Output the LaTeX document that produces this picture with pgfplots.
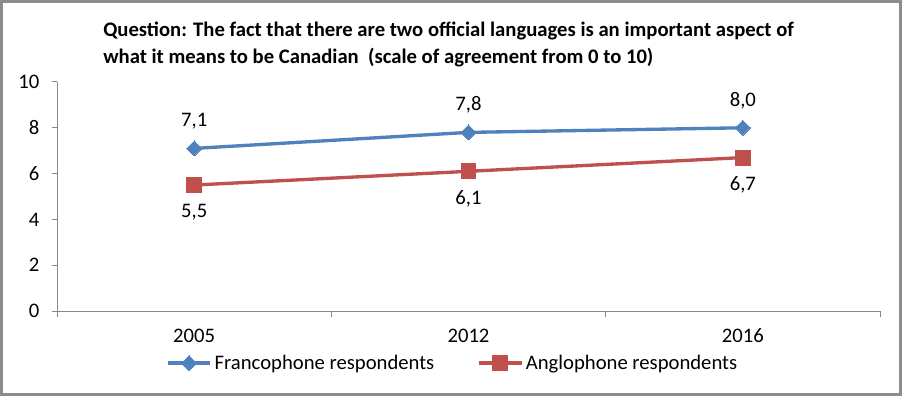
\documentclass[border=0pt]{standalone}
\usepackage{pgfplots}
\pgfplotsset{compat=1.18}
\usepackage{fontspec}
\setmainfont{Carlito}
\definecolor{fblue}{HTML}{4F81BD}
\definecolor{ared}{HTML}{C0504D}
\definecolor{axgray}{HTML}{868686}
\definecolor{framegray}{HTML}{8C8C8C}
\newcommand{\fs}{\fontsize{15.5pt}{18pt}\selectfont}
\begin{document}
\begin{tikzpicture}
\fill[white] (0pt,0pt) rectangle (676.5pt,297pt);
\draw[framegray, line width=2.25pt] (1.125pt,1.125pt) rectangle (675.375pt,295.875pt);
\node[anchor=north west, align=left, font=\bfseries\fontsize{15.5pt}{20.25pt}\selectfont, inner sep=0pt] at (77.25pt,281pt) {Question: The fact that there are two official languages is an important aspect of\\what it means to be Canadian\ \ (scale of agreement from 0 to 10)};
\begin{axis}[
  at={(42.75pt,63.75pt)}, anchor=south west,
  scale only axis, width=617.25pt, height=171.75pt,
  xmin=0, xmax=3, ymin=0, ymax=10,
  axis x line*=bottom, axis y line*=left,
  axis line style={axgray, line width=0.75pt, -},
  xtick={0.5,1.5,2.5}, xticklabels={2005,2012,2016},
  major x tick style={draw=none},
  minor xtick={0,1,2,3},
  minor tick length=4.5pt,
  minor tick style={axgray, line width=0.75pt},
  ytick={0,2,4,6,8,10},
  major tick length=3.75pt,
  tick align=outside,
  ytick style={axgray, line width=0.75pt},
  yticklabel style={xshift=-6pt},
  xticklabel style={yshift=-6pt},
  ticklabel style={font=\fs},
  /pgf/number format/assume math mode=true,
  nodes near coords, point meta=explicit symbolic,
  every node near coord/.append style={font=\fs, text=black},
  legend style={at={(0.481,-0.227)}, anchor=center, draw=none, fill=none,
    legend columns=2, font=\fs,
    /tikz/every even column/.append style={column sep=30pt},
    inner sep=0pt},
  legend cell align=left,
  legend image code/.code={\draw[mark repeat=2,mark phase=2,#1] plot coordinates {(0cm,0cm)(0.57cm,0cm)(1.13cm,0cm)};},
  clip=false,
]
\addplot[fblue, line width=2.5pt, mark=square*, mark size=4pt, mark options={rotate=45, solid, line width=0pt},
  nodes near coords align={above}, every node near coord/.append style={yshift=11pt}]
  coordinates {(0.5,7.1) [7,1] (1.5,7.8) [7,8] (2.5,8.0) [8,0]};
\addlegendentry{Francophone respondents}
\addplot[ared, line width=2.5pt, mark=square*, mark size=5.6pt, mark options={solid, line width=0pt},
  nodes near coords align={below}, every node near coord/.append style={yshift=-11pt}]
  coordinates {(0.5,5.5) [5,5] (1.5,6.1) [6,1] (2.5,6.7) [6,7]};
\addlegendentry{Anglophone respondents}
\end{axis}
\end{tikzpicture}
\end{document}
